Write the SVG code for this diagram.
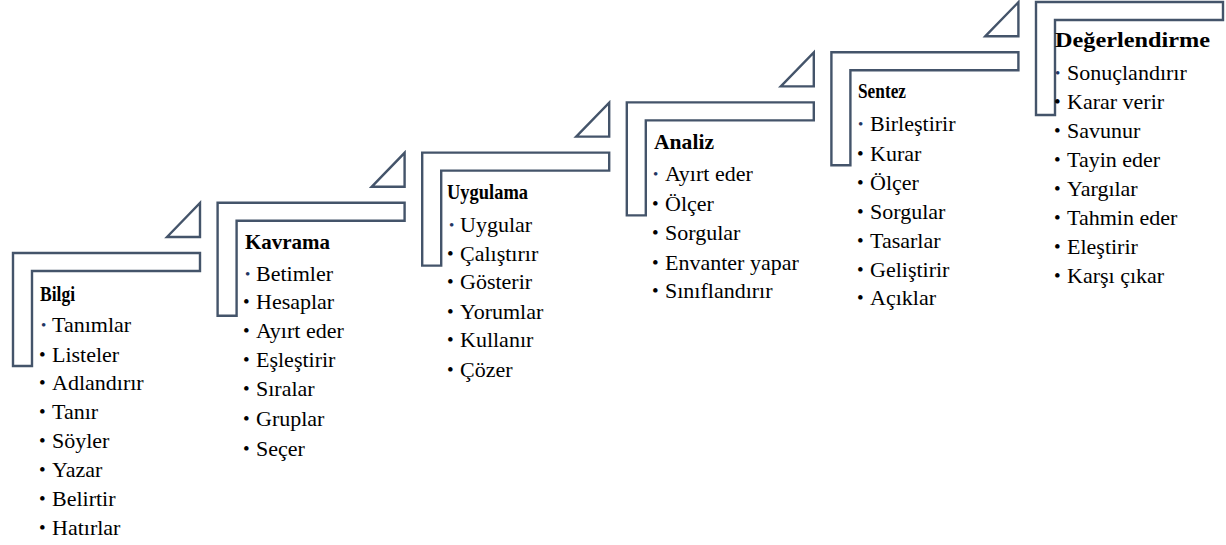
<svg xmlns="http://www.w3.org/2000/svg" width="1226" height="545" viewBox="0 0 1226 545">
<style>
.frame{fill:#fff;stroke:#44546A;stroke-width:2.4;stroke-linejoin:miter}
.tri{fill:#fff;stroke:#44546A;stroke-width:2.4;stroke-linejoin:miter}
text{font-family:"Liberation Serif","Times New Roman",serif;fill:#000}
.t{font-size:22px;font-weight:bold}
.i{font-size:22px}
.b{font-size:19px}
.nb{font-size:15px;fill:#1F3864}
</style>
<rect width="1226" height="545" fill="#fff"/>
<g id="connectors">
<polygon class="tri" points="167,237 200,203 200,237"/>
<polygon class="tri" points="371.6,186.8 404.6,152.8 404.6,186.8"/>
<polygon class="tri" points="576.2,136.6 609.2,102.6 609.2,136.6"/>
<polygon class="tri" points="780.8,86.4 813.8,52.4 813.8,86.4"/>
<polygon class="tri" points="985.4,36.2 1018.4,2.2 1018.4,36.2"/>
</g>
<g id="bilgi">
<path class="frame" d="M13,253 h187 v18 h-168 v95 h-19 z"/>
<text class="t" x="40" y="301" textLength="35" lengthAdjust="spacingAndGlyphs">Bilgi</text>
<text class="nb" x="41" y="330">•</text><text class="i" x="52" y="332">Tanımlar</text>
<text class="b" x="39" y="361">•</text><text class="i" x="52" y="362">Listeler</text>
<text class="b" x="39" y="389">•</text><text class="i" x="52" y="390">Adlandırır</text>
<text class="b" x="39" y="418">•</text><text class="i" x="52" y="419">Tanır</text>
<text class="b" x="39" y="447">•</text><text class="i" x="52" y="448">Söyler</text>
<text class="b" x="39" y="476">•</text><text class="i" x="52" y="477">Yazar</text>
<text class="b" x="39" y="505">•</text><text class="i" x="52" y="506">Belirtir</text>
<text class="b" x="39" y="534">•</text><text class="i" x="52" y="535">Hatırlar</text>
</g>
<g id="kavrama">
<path class="frame" d="M217.6,202.8 h187 v18 h-168 v95 h-19 z"/>
<text class="t" x="245" y="249" textLength="85" lengthAdjust="spacingAndGlyphs">Kavrama</text>
<text class="nb" x="245" y="279">•</text><text class="i" x="256" y="281">Betimler</text>
<text class="b" x="243" y="308">•</text><text class="i" x="256" y="309">Hesaplar</text>
<text class="b" x="243" y="337">•</text><text class="i" x="256" y="338">Ayırt eder</text>
<text class="b" x="243" y="366">•</text><text class="i" x="256" y="367">Eşleştirir</text>
<text class="b" x="243" y="395">•</text><text class="i" x="256" y="396">Sıralar</text>
<text class="b" x="243" y="425">•</text><text class="i" x="256" y="426">Gruplar</text>
<text class="b" x="243" y="455">•</text><text class="i" x="256" y="456">Seçer</text>
</g>
<g id="uygulama">
<path class="frame" d="M422.2,152.6 h187 v18 h-168 v95 h-19 z"/>
<text class="t" x="447" y="199" textLength="81" lengthAdjust="spacingAndGlyphs">Uygulama</text>
<text class="nb" x="449" y="230">•</text><text class="i" x="460" y="232">Uygular</text>
<text class="b" x="447" y="260">•</text><text class="i" x="460" y="261">Çalıştırır</text>
<text class="b" x="447" y="288">•</text><text class="i" x="460" y="289">Gösterir</text>
<text class="b" x="447" y="318">•</text><text class="i" x="460" y="319">Yorumlar</text>
<text class="b" x="447" y="346">•</text><text class="i" x="460" y="347">Kullanır</text>
<text class="b" x="447" y="376">•</text><text class="i" x="460" y="377">Çözer</text>
</g>
<g id="analiz">
<path class="frame" d="M626.8,102.4 h187 v18 h-168 v95 h-19 z"/>
<text class="t" x="654" y="149" textLength="60" lengthAdjust="spacingAndGlyphs">Analiz</text>
<text class="nb" x="653" y="179">•</text><text class="i" x="665" y="181">Ayırt eder</text>
<text class="b" x="652" y="210">•</text><text class="i" x="665" y="211">Ölçer</text>
<text class="b" x="652" y="239">•</text><text class="i" x="665" y="240">Sorgular</text>
<text class="b" x="652" y="269">•</text><text class="i" x="665" y="270">Envanter yapar</text>
<text class="b" x="652" y="297">•</text><text class="i" x="665" y="298">Sınıflandırır</text>
</g>
<g id="sentez">
<path class="frame" d="M831.4,52.2 h187 v18 h-168 v95 h-19 z"/>
<text class="t" x="858" y="98" textLength="48" lengthAdjust="spacingAndGlyphs">Sentez</text>
<text class="nb" x="858" y="129">•</text><text class="i" x="870" y="131">Birleştirir</text>
<text class="b" x="857" y="160">•</text><text class="i" x="870" y="161">Kurar</text>
<text class="b" x="857" y="189">•</text><text class="i" x="870" y="190">Ölçer</text>
<text class="b" x="857" y="218">•</text><text class="i" x="870" y="219">Sorgular</text>
<text class="b" x="857" y="247">•</text><text class="i" x="870" y="248">Tasarlar</text>
<text class="b" x="857" y="276">•</text><text class="i" x="870" y="277">Geliştirir</text>
<text class="b" x="857" y="304">•</text><text class="i" x="870" y="305">Açıklar</text>
</g>
<g id="degerlendirme">
<path class="frame" d="M1036,2 h187 v18 h-168 v95 h-19 z"/>
<text class="t" x="1055" y="47" textLength="155" lengthAdjust="spacingAndGlyphs">Değerlendirme</text>
<text class="nb" x="1055" y="78">•</text><text class="i" x="1067" y="80">Sonuçlandırır</text>
<text class="b" x="1054" y="108">•</text><text class="i" x="1067" y="109">Karar verir</text>
<text class="b" x="1054" y="137">•</text><text class="i" x="1067" y="138">Savunur</text>
<text class="b" x="1054" y="166">•</text><text class="i" x="1067" y="167">Tayin eder</text>
<text class="b" x="1054" y="195">•</text><text class="i" x="1067" y="196">Yargılar</text>
<text class="b" x="1054" y="224">•</text><text class="i" x="1067" y="225">Tahmin eder</text>
<text class="b" x="1054" y="253">•</text><text class="i" x="1067" y="254">Eleştirir</text>
<text class="b" x="1054" y="282">•</text><text class="i" x="1067" y="283">Karşı çıkar</text>
</g>
</svg>
